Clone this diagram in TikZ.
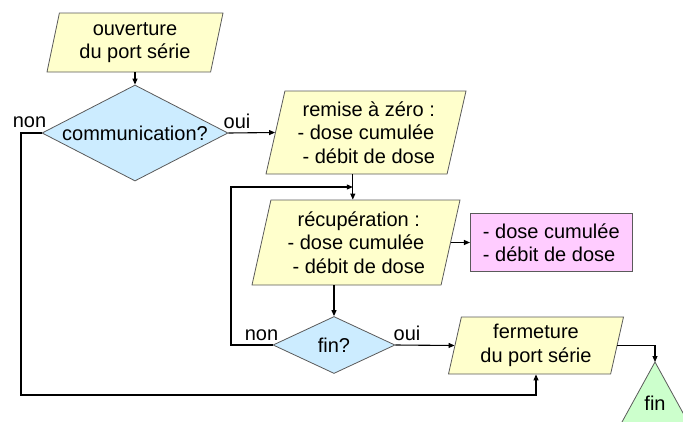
\documentclass[tikz,border=0pt]{standalone}
\usepackage{fontspec}
\setmainfont{Liberation Sans}
\usetikzlibrary{positioning, arrows.meta, shapes.geometric, calc}

\definecolor{jaune}{RGB}{255,255,204}
\definecolor{bleu}{RGB}{204,236,255}
\definecolor{rose}{RGB}{255,204,255}
\definecolor{vert}{RGB}{204,255,204}
\definecolor{bord}{RGB}{90,90,90}

\begin{document}
\begin{tikzpicture}[
    x=1pt, y=-1pt,
    font=\fontsize{20}{23.5}\selectfont,
    para/.style={
      trapezium,
      trapezium left angle=73,
      trapezium right angle=107,
      trapezium stretches body,
      draw=bord, line width=0.8pt,
      fill=jaune,
      inner sep=0pt,
      align=center
    },
    decision/.style={
      diamond,
      aspect=2,
      draw=bord, line width=0.8pt,
      fill=bleu,
      inner sep=0pt
    },
    sortie/.style={
      rectangle,
      draw=bord, line width=0.8pt,
      fill=rose,
      minimum width=162pt,
      minimum height=58pt,
      align=left
    },
    lbl/.style={inner sep=0pt, anchor=base},
    >={Triangle[length=6pt, width=5pt]},
    every edge/.style={draw, line width=1.1pt, ->},
    fleche/.style={draw, line width=1.1pt, ->}
  ]
  \path[use as bounding box] (0,0) rectangle (683,421);

  \node[para, minimum width=176pt, minimum height=59pt] (ouverture) at (135,42.5) {ouverture\\du port série};
  \node[decision, minimum width=186pt, minimum height=96pt] (comm) at (135,133) {communication?};
  \node[para, minimum width=200pt, minimum height=83pt] (raz) at (366,132.5) {~remise à zéro :\\- dose cumulée\\~- débit de dose};
  \node[para, minimum width=208pt, minimum height=85pt] (recup) at (356,242.5) {~récupération :\\- dose cumulée\\~- débit de dose};
  \node[sortie, right=19pt of recup] (mesures) {- dose cumulée\\- débit de dose};
  \node[decision, minimum width=122pt, minimum height=57pt] (testfin) at (334,345) {fin?};
  \node[para, minimum width=175pt, minimum height=57pt] (fermeture) at (536,345.5) {fermeture\\du port série};

  % fin du programme, coupe par le bord
  \begin{scope}
    \clip (0,0) rectangle (683,421);
    \filldraw[draw=bord, line width=0.8pt, fill=vert] (655,362) coordinate (sommet) -- ++(-44,80) -- ++(88,0) -- cycle;
  \end{scope}
  \node (finprog) at (655,403) {fin};

  \node[lbl] (non1) at (29.5,127) {non};
  \node[lbl] (oui1) at (237,128) {oui};
  \node[lbl] (non2) at (261.5,340) {non};
  \node[lbl] (oui2) at (407,340) {oui};

  \coordinate (razbas) at ($(raz.bottom left corner)!.48!(raz.bottom right corner)$);
  \coordinate (boucle) at (231,187);

  \path (ouverture.south -| comm.north) edge (comm.north)
        (comm.east) edge (raz.west)
        (razbas) edge (razbas |- recup.north)
        (recup.east) edge (mesures.west)
        (testfin.north |- recup.south) edge (testfin.north)
        (testfin.east) edge (fermeture.west);
  \draw[fleche] (comm.west) -| (21,395) -| (fermeture.center |- fermeture.south);
  \draw[fleche] (testfin.west) -| (boucle) -- (razbas |- boucle);
  \draw[fleche] (fermeture.east) -| (sommet);
\end{tikzpicture}
\end{document}
